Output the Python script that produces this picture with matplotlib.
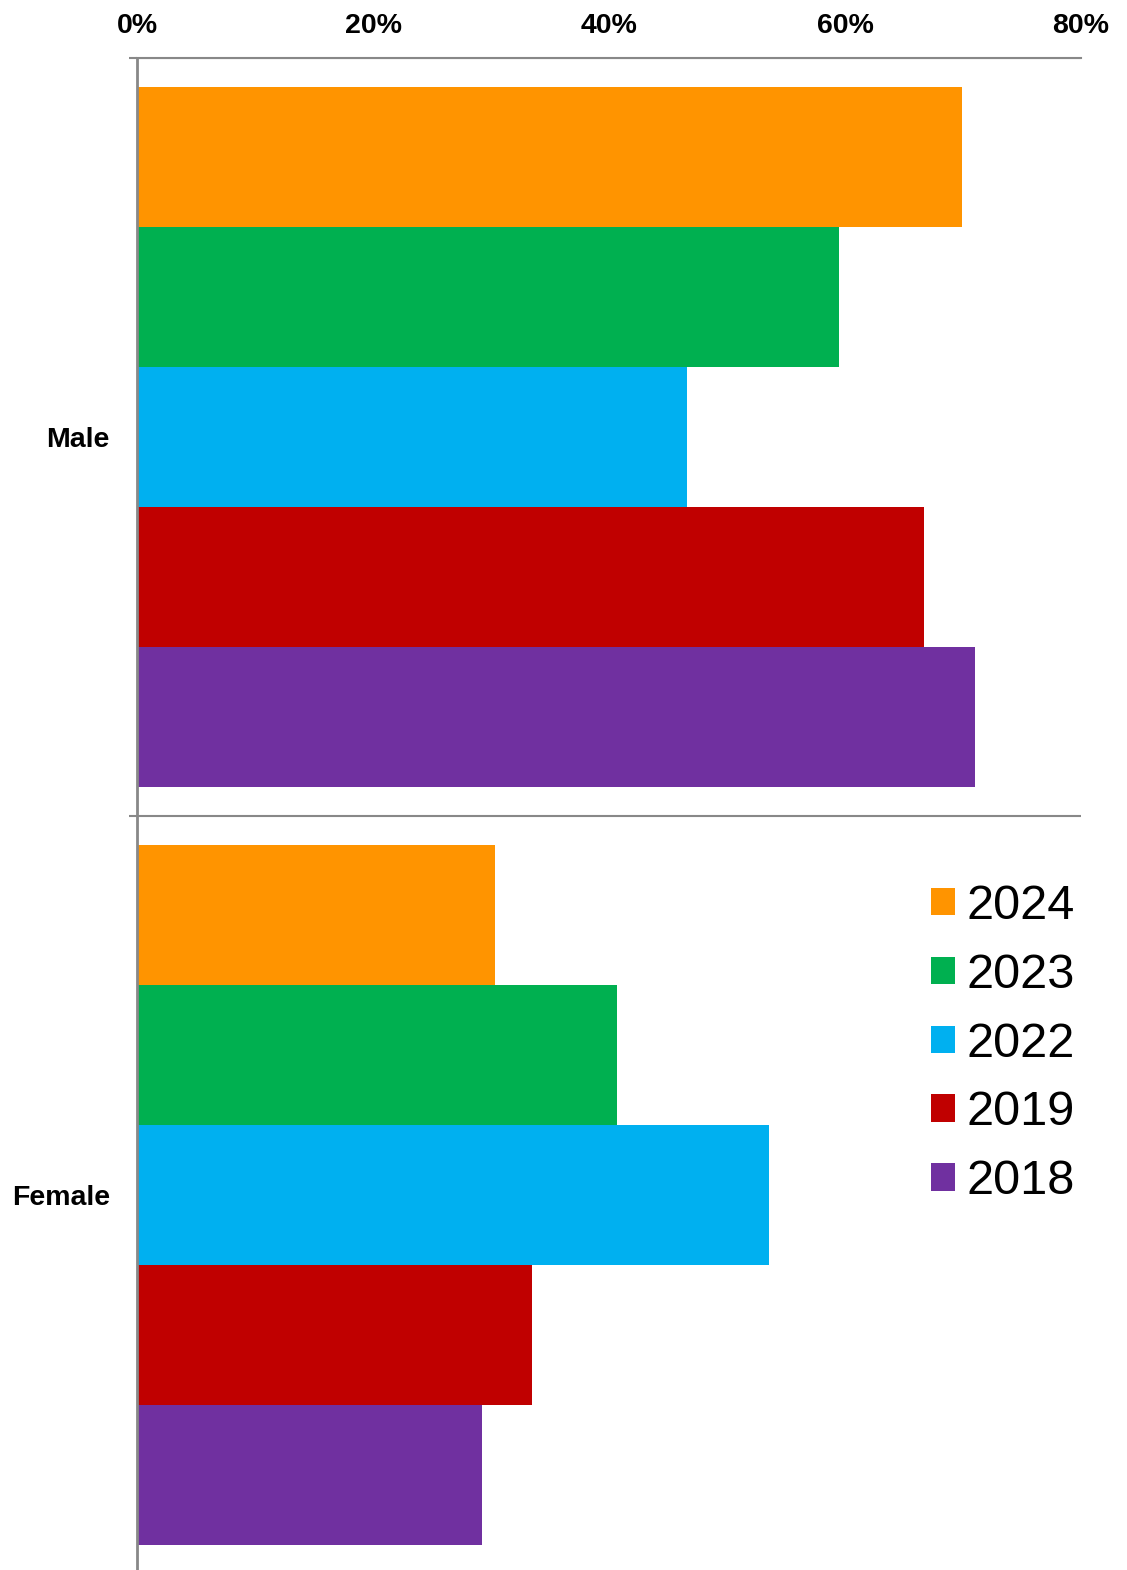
import numpy as np
import matplotlib.pyplot as plt
from matplotlib.patches import Patch

plt.rcParams['font.family'] = ['Liberation Sans', 'DejaVu Sans']

groups = ['Male', 'Female']
years = ['2024', '2023', '2022', '2019', '2018']
colors = ['#FF9400', '#00B050', '#00B0F0', '#C00000', '#7030A0']
# share (%) per year, Male then Female
values = {
    '2024': [69.9, 30.3],
    '2023': [59.5, 40.7],
    '2022': [46.6, 53.6],
    '2019': [66.7, 33.5],
    '2018': [71.0, 29.2],
}

fig = plt.figure(figsize=(11.27, 15.70), dpi=100)
ax = fig.add_axes([137/1127, -4/1570, (1081-137)/1127, (1574-58)/1570])

h = 0.1847
centers = np.arange(len(groups)) + 0.5
for i, yr in enumerate(years):
    ax.barh(centers - 2*h + i*h, values[yr], height=h, color=colors[i],
            edgecolor='none', zorder=2)

ax.set_xlim(0, 80)
ax.set_ylim(len(groups), 0)
ax.xaxis.tick_top()
ax.set_xticks([0, 20, 40, 60, 80])
ax.set_xticklabels([f'{t}%' for t in [0, 20, 40, 60, 80]], fontsize=20.5, fontweight='bold')
ax.tick_params(axis='x', length=0, pad=14)

# category boundaries as gray lines, labels at centres
ax.set_yticks([0, 1, 2])
ax.set_yticklabels([])
ax.set_yticks(centers, minor=True)
ax.set_yticklabels(groups, minor=True, fontsize=20.5, fontweight='bold')
ax.tick_params(axis='y', which='major', length=6, width=1.5, color='#888888')
ax.tick_params(axis='y', which='minor', length=0, pad=19.5)
ax.grid(axis='y', which='major', color='#888888', linewidth=1.5, zorder=1)
ax.grid(axis='x', visible=False)

for s in ['right', 'bottom']:
    ax.spines[s].set_visible(False)
ax.spines['top'].set_color('#888888')
ax.spines['top'].set_linewidth(1.5)
ax.spines['left'].set_color('#888888')
ax.spines['left'].set_linewidth(2)
ax.spines['left'].set_zorder(3)

handles = [Patch(facecolor=c, edgecolor='none') for c in colors]
fig.legend(handles, years, loc='upper left', bbox_to_anchor=(931/1127, 1 - 884/1570),
           frameon=False, fontsize=35, handlelength=0.49, handleheight=0.49,
           handletextpad=0.25, labelspacing=0.49, borderpad=0, borderaxespad=0)

fig.savefig('out.png', dpi=100)
